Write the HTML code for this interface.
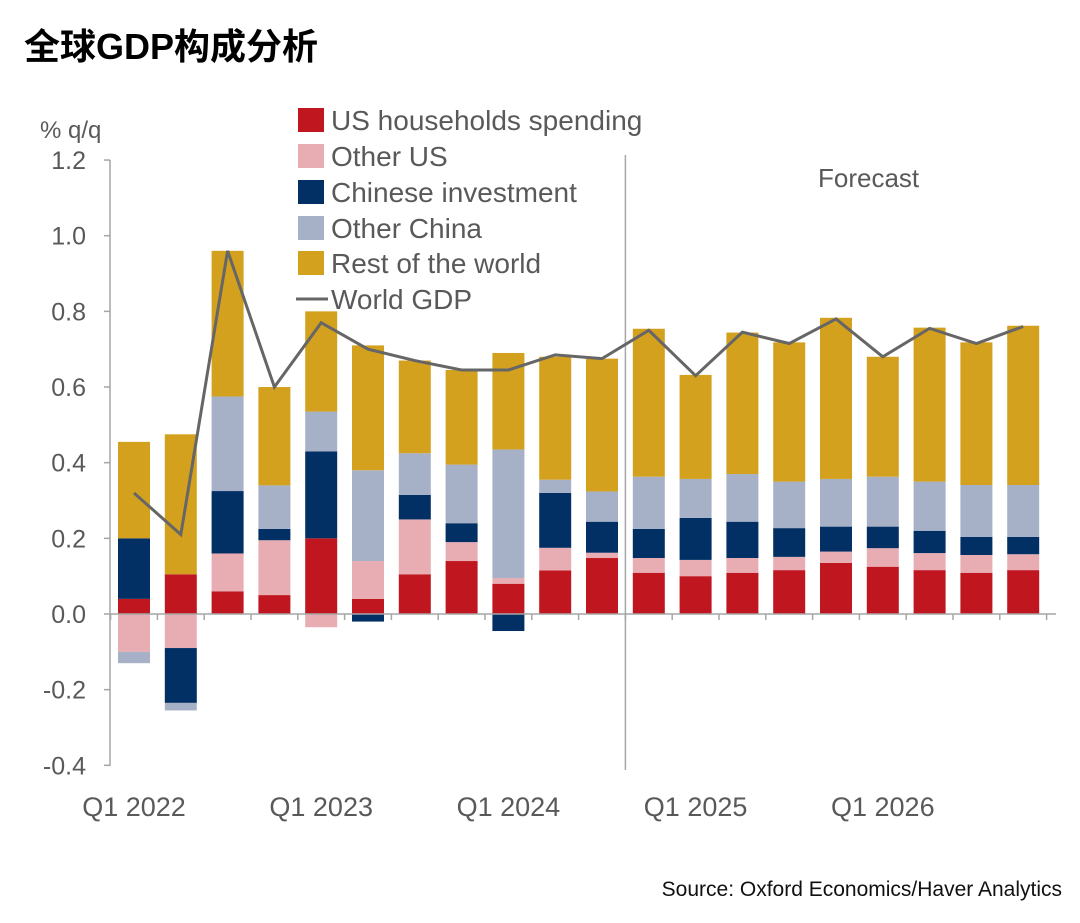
<!DOCTYPE html>
<html><head><meta charset="utf-8"><style>
body{margin:0;background:#fff;width:1080px;height:918px;overflow:hidden;font-family:"Liberation Sans","Noto Sans CJK SC",sans-serif}
</style></head><body>
<svg id="c" width="1080" height="918" xmlns="http://www.w3.org/2000/svg">
<text x="24" y="59" font-size="36" font-weight="bold" fill="#000" font-family="Liberation Sans,Noto Sans CJK SC,sans-serif">全球GDP构成分析</text>
<text x="1062" y="896" text-anchor="end" font-size="21" fill="#111">Source: Oxford Economics/Haver Analytics</text>
<text x="40" y="138" font-size="24" fill="#595959">% q/q</text>
<text x="818" y="187" font-size="26" fill="#595959">Forecast</text>
<g id="g"></g>
</svg>
<script>
const quarters=["Q1 2022","Q2 2022","Q3 2022","Q4 2022","Q1 2023","Q2 2023","Q3 2023","Q4 2023","Q1 2024","Q2 2024","Q3 2024","Q4 2024","Q1 2025","Q2 2025","Q3 2025","Q4 2025","Q1 2026","Q2 2026","Q3 2026","Q4 2026"];
const usHouse=[0.04,0.105,0.06,0.05,0.20,0.04,0.105,0.14,0.08,0.115,0.148,0.109,0.10,0.109,0.116,0.135,0.125,0.116,0.109,0.116];
const otherUS=[-0.10,-0.09,0.10,0.145,-0.035,0.10,0.145,0.05,0.015,0.06,0.014,0.039,0.043,0.039,0.035,0.03,0.049,0.045,0.047,0.042];
const chinaInv=[0.16,-0.145,0.165,0.03,0.23,-0.02,0.065,0.05,-0.045,0.145,0.082,0.077,0.111,0.096,0.076,0.066,0.057,0.059,0.048,0.046];
const otherChina=[-0.03,-0.02,0.25,0.115,0.105,0.24,0.11,0.155,0.34,0.035,0.08,0.138,0.103,0.126,0.123,0.126,0.132,0.13,0.137,0.137];
const restWorld=[0.255,0.37,0.385,0.26,0.265,0.33,0.245,0.25,0.255,0.325,0.351,0.391,0.275,0.374,0.368,0.426,0.317,0.407,0.377,0.421];
const worldGDP=[0.32,0.21,0.96,0.60,0.77,0.70,0.67,0.645,0.645,0.685,0.675,0.75,0.63,0.745,0.715,0.78,0.68,0.755,0.715,0.76];
const yTicks=[1.2,1.0,0.8,0.6,0.4,0.2,0.0,-0.2,-0.4];
const xLabels=["Q1 2022","Q1 2023","Q1 2024","Q1 2025","Q1 2026"];
const seriesNames=["US households spending","Other US","Chinese investment","Other China","Rest of the world"];
const colors=["#c0161f","#e8adb2","#022f64","#a6b1c8","#d3a11e"];
const NS="http://www.w3.org/2000/svg";
const g=document.getElementById('g');
const y=v=>614-v*378.3;
const x=i=>134+i*46.8;
function el(t,a,p){const e=document.createElementNS(NS,t);for(const k in a)e.setAttribute(k,a[k]);(p||g).appendChild(e);return e;}
let ax=el('line',{x1:110,y1:160,x2:110,y2:766,stroke:'#a6a6a6','stroke-width':1.5});


yTicks.forEach(v=>{
 const tk=el('line',{x1:104,x2:110,y1:y(v),y2:y(v),stroke:'#a6a6a6','stroke-width':1.5});
 
 
 const t=el('text',{x:86,y:y(v)+9,'text-anchor':'end','font-size':25,fill:'#595959'});
 t.textContent=v.toFixed(1);
 
 
});
const fd=el('line',{x1:(x(10)+x(11))/2,x2:(x(10)+x(11))/2,y1:155,y2:770,stroke:'#a6a6a6','stroke-width':1.5});


const series=[usHouse,otherUS,chinaInv,otherChina,restWorld];
quarters.forEach((q,i)=>{
 let pos=0,neg=0;
 series.forEach((s,k)=>{
  const v=s[i];let y0,y1;
  if(v>=0){y0=pos;y1=pos+v;pos=y1;}else{y0=neg;y1=neg+v;neg=y1;}
  const r=el('rect',{x:x(i)-16,width:32,y:Math.min(y(y0),y(y1)),height:Math.abs(y(y0)-y(y1)),fill:colors[k]});
  
  
 });
});
const xa=el('line',{x1:110,x2:1056,y1:614,y2:614,stroke:'#a6a6a6','stroke-width':1.5});


for(let i=0;i<=20;i++){
 const tk=el('line',{x1:x(i)-23.4,x2:x(i)-23.4,y1:614,y2:620,stroke:'#a6a6a6','stroke-width':1.5});
 
 
}
xLabels.forEach(l=>{
 const i=quarters.indexOf(l);
 const t=el('text',{x:x(i),y:816,'text-anchor':'middle','font-size':27,fill:'#595959'});
 t.textContent=l;
 
 
});
const ln=el('polyline',{points:worldGDP.map((v,i)=>x(i)+','+y(v)).join(' '),fill:'none',stroke:'#666','stroke-width':3});


const ly=[120,156,192,228,263];
seriesNames.forEach((n,k)=>{
 const r=el('rect',{x:298,y:ly[k]-12,width:26,height:24,fill:colors[k]});
 
 
 const t=el('text',{x:331,y:ly[k]+10,'font-size':28,fill:'#595959'});
 t.textContent=n;
 
 
});
const ll=el('line',{x1:296,x2:328,y1:299,y2:299,stroke:'#666','stroke-width':3});


const lt=el('text',{x:331,y:309,'font-size':28,fill:'#595959'});
lt.textContent='World GDP';


</script>
</body></html>
